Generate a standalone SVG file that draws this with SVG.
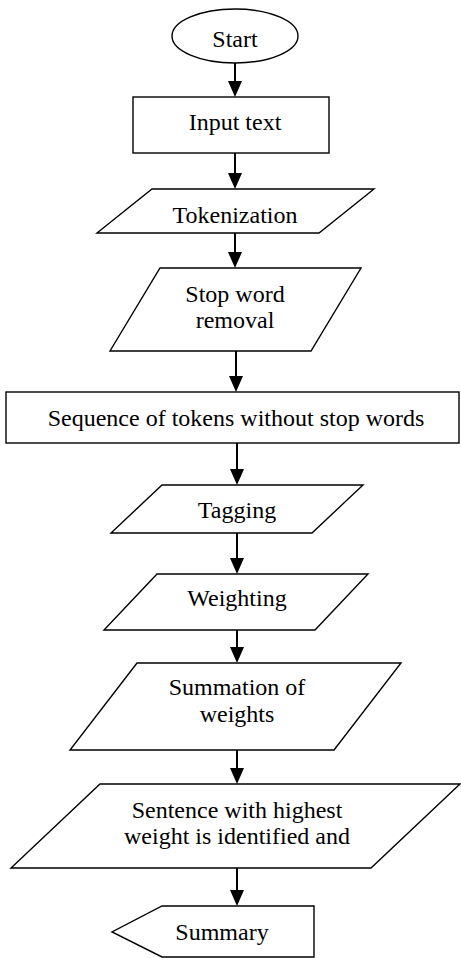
<svg xmlns="http://www.w3.org/2000/svg" width="461" height="958" viewBox="0 0 461 958">
<style>
.s{fill:#fff;stroke:#000;stroke-width:1.4}
.t{font-family:"Liberation Serif","Times New Roman",serif;font-size:24px;fill:#000;text-anchor:middle}
.c{fill:none;stroke:#000;stroke-width:2}
</style>
<defs>
<marker id="ah" markerUnits="userSpaceOnUse" markerWidth="16" markerHeight="14" refX="0" refY="7" orient="auto">
<path d="M0,0 L16,7 L0,14 z" fill="#000"/>
</marker>
</defs>
<rect width="461" height="958" fill="#fff"/>
<g id="connectors">
<path class="c" d="M235,63 V81" marker-end="url(#ah)"/>
<path class="c" d="M235,153 V173" marker-end="url(#ah)"/>
<path class="c" d="M235,233 V252" marker-end="url(#ah)"/>
<path class="c" d="M236,351 V376" marker-end="url(#ah)"/>
<path class="c" d="M237,443 V469" marker-end="url(#ah)"/>
<path class="c" d="M237,533 V558" marker-end="url(#ah)"/>
<path class="c" d="M237,630 V647" marker-end="url(#ah)"/>
<path class="c" d="M237,750 V768" marker-end="url(#ah)"/>
<path class="c" d="M237,868 V890" marker-end="url(#ah)"/>
</g>
<g id="start">
<ellipse class="s" cx="235" cy="36" rx="63" ry="27"/>
<text class="t" x="235" y="47">Start</text>
</g>
<g id="input">
<rect class="s" x="133" y="97" width="196" height="56"/>
<text class="t" x="235" y="130">Input text</text>
</g>
<g id="tokenization">
<polygon class="s" points="152,189 374,189 319,233 97,233"/>
<text class="t" x="235" y="223">Tokenization</text>
</g>
<g id="stopword">
<polygon class="s" points="160,268 361,268 311,351 110,351"/>
<text class="t" x="235" y="302">Stop word</text>
<text class="t" x="235" y="328">removal</text>
</g>
<g id="sequence">
<rect class="s" x="6" y="392" width="453" height="51"/>
<text class="t" x="236" y="426">Sequence of tokens without stop words</text>
</g>
<g id="tagging">
<polygon class="s" points="162,485 363,485 312,533 111,533"/>
<text class="t" x="237" y="518">Tagging</text>
</g>
<g id="weighting">
<polygon class="s" points="157,574 368,574 315,630 104,630"/>
<text class="t" x="237" y="606">Weighting</text>
</g>
<g id="summation">
<polygon class="s" points="137,663 401,663 334,750 70,750"/>
<text class="t" x="237" y="695">Summation of</text>
<text class="t" x="237" y="722">weights</text>
</g>
<g id="sentence">
<polygon class="s" points="100,784 460,784 371,868 11,868"/>
<text class="t" x="237" y="818">Sentence with highest</text>
<text class="t" x="237" y="844">weight is identified and</text>
</g>
<g id="summary">
<polygon class="s" points="162,906 314,906 314,957 162,957 112,932"/>
<text class="t" x="222" y="940">Summary</text>
</g>
</svg>
